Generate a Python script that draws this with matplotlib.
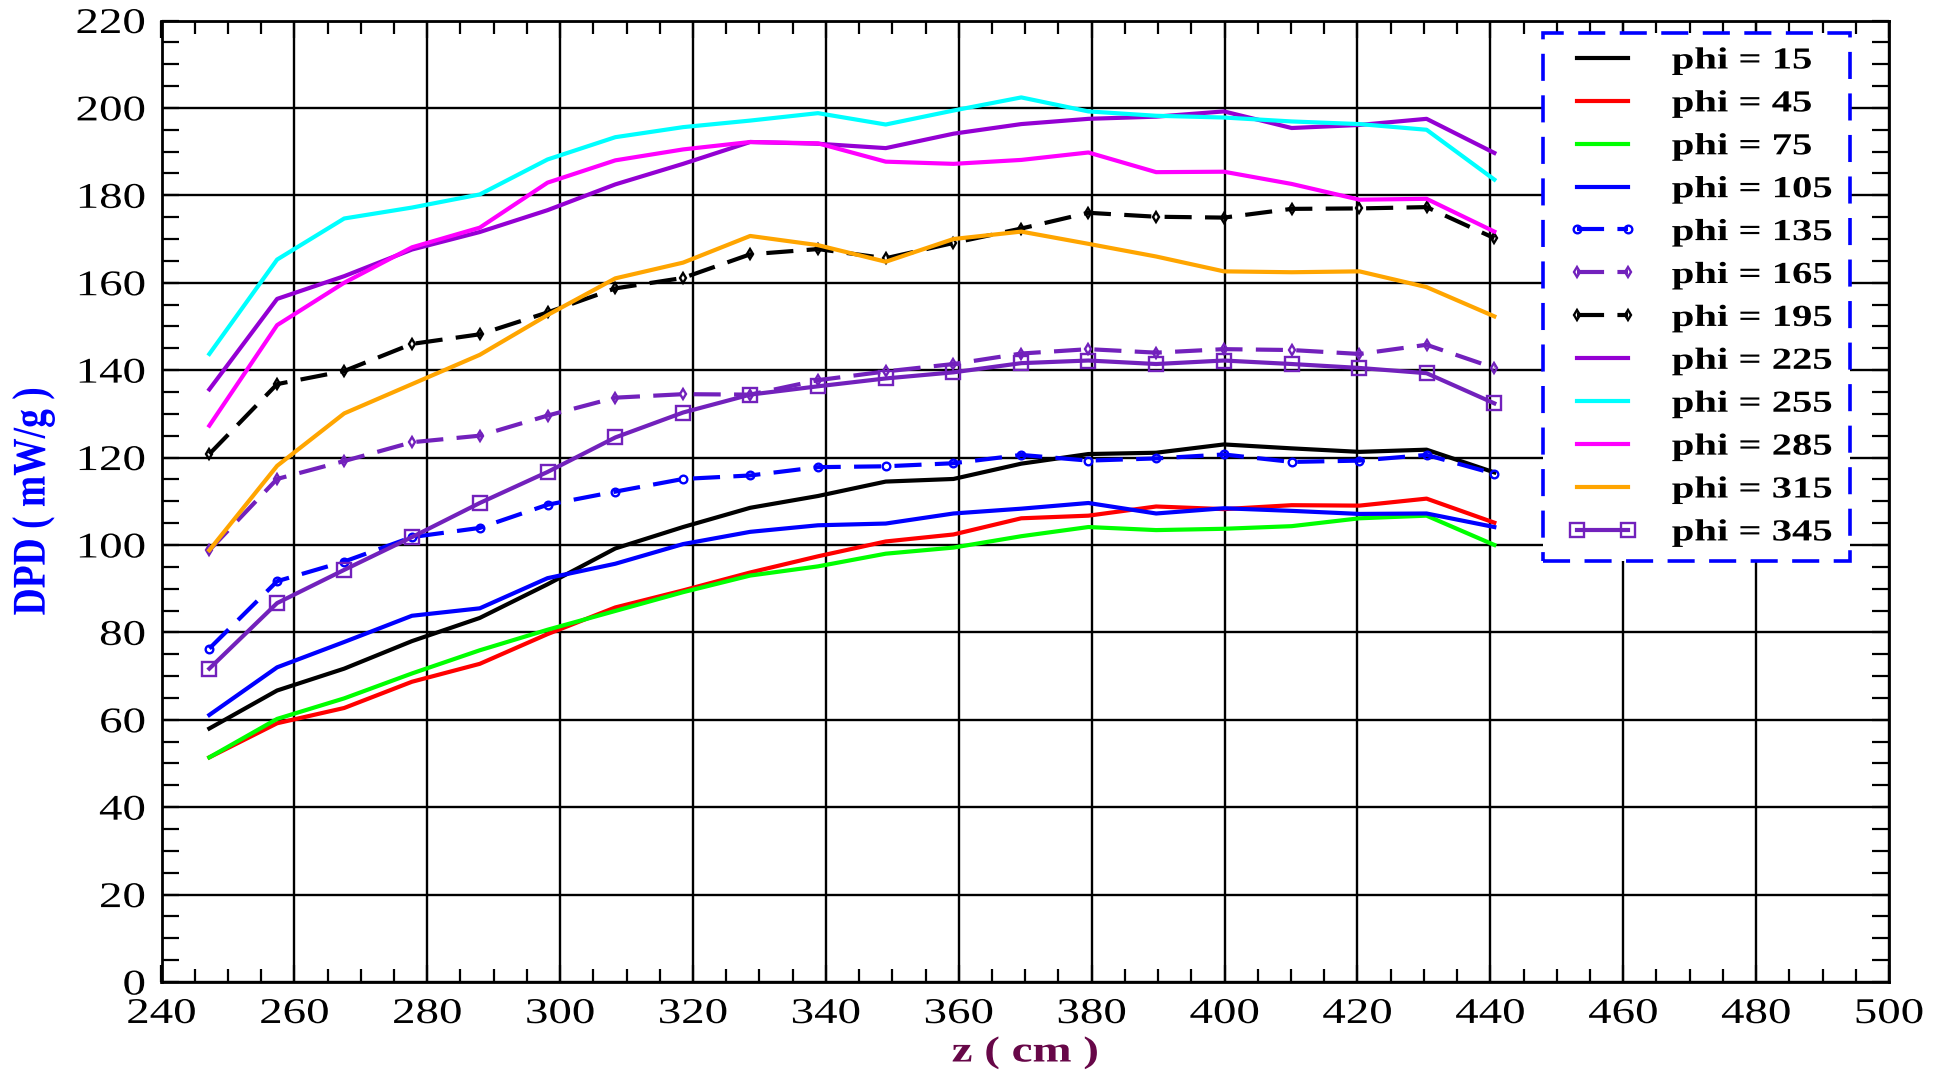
import matplotlib
matplotlib.use("Agg")
import matplotlib.pyplot as plt
from matplotlib.patheffects import AbstractPathEffect
from matplotlib.transforms import Affine2D
from matplotlib.patches import Rectangle
from matplotlib.ticker import MultipleLocator

# ---------------------------------------------------------------- data
z_cm = [247.2, 257.4, 267.5, 277.7, 287.9, 298.1, 308.3, 318.5, 328.6, 338.8,
        349.0, 359.2, 369.4, 379.5, 389.7, 399.9, 410.1, 420.3, 430.4, 440.6]

phi_15 = [58.0, 66.7, 71.7, 78.0, 83.3, 91.0, 99.2, 104.1, 108.5, 111.2,
          114.5, 115.1, 118.6, 120.8, 121.1, 123.0, 122.1, 121.3, 121.8, 116.6]
phi_45 = [51.4, 59.2, 62.7, 68.7, 72.8, 79.6, 85.7, 89.6, 93.7, 97.4,
          100.8, 102.4, 106.1, 106.7, 108.8, 108.2, 109.1, 109.0, 110.6, 105.1]
phi_75 = [51.4, 60.2, 64.9, 70.6, 75.9, 80.6, 84.9, 89.2, 93.0, 95.1,
          98.0, 99.4, 102.0, 104.1, 103.4, 103.7, 104.3, 106.1, 106.7, 100.0]
phi_105 = [61.1, 72.0, 77.8, 83.8, 85.5, 92.4, 95.7, 100.2, 103.0, 104.5,
           104.9, 107.2, 108.3, 109.6, 107.2, 108.4, 107.8, 107.1, 107.2, 104.1]
phi_135 = [76.3, 91.7, 96.2, 101.8, 103.9, 109.2, 112.2, 115.1, 115.9, 117.8,
           118.0, 118.7, 120.6, 119.3, 119.8, 120.7, 119.0, 119.3, 120.6, 116.3]
phi_165 = [98.8, 115.1, 119.2, 123.5, 125.0, 129.6, 133.7, 134.5, 134.4, 137.7,
           139.7, 141.4, 143.8, 144.8, 144.0, 144.8, 144.6, 143.7, 145.8, 140.5]
phi_195 = [120.8, 136.8, 139.8, 146.0, 148.2, 153.2, 158.7, 161.1, 166.5, 167.7,
           165.6, 169.1, 172.4, 176.0, 175.1, 174.9, 176.9, 177.0, 177.3, 170.2]
phi_225 = [135.6, 156.3, 161.5, 167.6, 171.6, 176.6, 182.5, 187.2, 192.2, 191.8,
           190.8, 194.1, 196.3, 197.5, 198.0, 199.2, 195.4, 196.1, 197.5, 189.7]
phi_255 = [143.7, 165.3, 174.7, 177.2, 180.2, 188.2, 193.3, 195.6, 197.1, 198.8,
           196.2, 199.4, 202.4, 199.2, 198.2, 197.8, 196.9, 196.3, 195.0, 183.6]
phi_285 = [127.3, 150.3, 160.0, 168.1, 172.6, 182.9, 188.0, 190.5, 192.2, 191.9,
           187.7, 187.2, 188.1, 189.8, 185.3, 185.4, 182.6, 179.0, 179.2, 171.7]
phi_315 = [98.8, 118.1, 130.1, 136.8, 143.5, 152.6, 161.0, 164.6, 170.7, 168.6,
           164.8, 170.0, 171.7, 168.9, 166.0, 162.6, 162.4, 162.6, 159.0, 152.3]
phi_345 = [71.7, 86.7, 94.3, 101.8, 109.6, 116.7, 124.6, 130.3, 134.4, 136.3,
           138.1, 139.5, 141.6, 142.2, 141.4, 142.2, 141.4, 140.5, 139.3, 132.4]

phi_angles = [15, 45, 75, 105, 135, 165, 195, 225, 255, 285, 315, 345]
series = [phi_15, phi_45, phi_75, phi_105, phi_135, phi_165,
          phi_195, phi_225, phi_255, phi_285, phi_315, phi_345]

x_ticks = [240, 260, 280, 300, 320, 340, 360, 380, 400, 420, 440, 460, 480, 500]
y_ticks = [0, 20, 40, 60, 80, 100, 120, 140, 160, 180, 200, 220]

# ---------------------------------------------------------------- styles
GREEN = "#00ff00"
INDIGO = "#7221bc"
VIOLET = "#9400d3"
MAROON = "#670748"
DASH = (0, (6.5, 3.2))
LW = 3.0

styles = [
    dict(color="black", ls="-"),
    dict(color="red", ls="-"),
    dict(color=GREEN, ls="-"),
    dict(color="blue", ls="-"),
    dict(color="blue", ls=DASH, marker="o", ms=5.5, mfc="none", mew=1.7),
    dict(color=INDIGO, ls=DASH, marker="d", ms=5.5, mfc="none", mew=1.7),
    dict(color="black", ls=DASH, marker="d", ms=5.5, mfc="none", mew=1.7),
    dict(color=VIOLET, ls="-"),
    dict(color="cyan", ls="-"),
    dict(color="magenta", ls="-"),
    dict(color="orange", ls="-"),
    dict(color=INDIGO, ls="-", marker="s", ms=9.5, mfc="none", mew=1.7),
]


class Stretch(AbstractPathEffect):
    """Draw text paths widened about an anchor in the glyph frame."""

    def __init__(self, sx=1.0, sy=1.0, anchor="center"):
        super().__init__()
        self.sx, self.sy, self.anchor = sx, sy, anchor

    def draw_path(self, renderer, gc, tpath, affine, rgbFace=None):
        ext = tpath.get_extents()
        if self.anchor == "left":
            cx = ext.x0
        elif self.anchor == "right":
            cx = ext.x1
        else:
            cx = 0.5 * (ext.x0 + ext.x1)
        cy = 0.5 * (ext.y0 + ext.y1)
        t = (Affine2D().translate(-cx, -cy)
             .scale(self.sx, self.sy).translate(cx, cy))
        renderer.draw_path(gc, tpath, t + affine, rgbFace)


plt.rcParams["font.family"] = ["Liberation Serif", "DejaVu Serif"]
plt.rcParams["font.size"] = 26

W, H = 1947, 1071
L, R, T, B = 161.5, 1889.0, 20.5, 982.0
fig = plt.figure(figsize=(W / 100, H / 100), dpi=100)
ax = fig.add_axes([L / W, 1 - B / H, (R - L) / W, (B - T) / H])


def ax_x(px):
    return (px - L) / (R - L)


def ax_y(py):
    return (B - py) / (B - T)


lines = []
for ang, vals, st in zip(phi_angles, series, styles):
    ln, = ax.plot(z_cm, vals, color=st["color"], linestyle=st["ls"], lw=LW,
                  marker=st.get("marker"), markersize=st.get("ms", 0),
                  markerfacecolor=st.get("mfc", "none"),
                  markeredgewidth=st.get("mew", 1.5),
                  label=f"phi = {ang}", zorder=2)
    lines.append(ln)

ax.set_xlim(240, 500)
ax.set_ylim(0, 220)
ax.set_xticks(x_ticks)
ax.set_yticks(y_ticks)
ax.xaxis.set_minor_locator(MultipleLocator(5))
ax.yaxis.set_minor_locator(MultipleLocator(5))
ax.grid(which="major", color="black", lw=1.7)
ax.set_axisbelow(True)

ax.tick_params(which="both", direction="in", top=True, right=True,
               width=1.6, labelsize=26, pad=11.5)
ax.tick_params(which="major", length=12)
ax.tick_params(axis="x", which="minor", length=9.5)
ax.tick_params(axis="y", which="minor", length=12.5)
for sp in ax.spines.values():
    sp.set_linewidth(2.0)

ax.set_xlabel("z ( cm )", fontsize=26, fontweight="bold", color=MAROON)
ax.xaxis.set_label_coords(0.5, ax_y(1053))
ax.xaxis.label.set_va("center")
ax.xaxis.label.set_path_effects([Stretch(1.3, 1.0, "center")])

ax.set_ylabel("DPD ( mW/g )", fontsize=27, fontweight="bold", color="blue")
ax.yaxis.set_label_coords(ax_x(33), 0.5)
ax.yaxis.label.set_va("center")
ax.yaxis.label.set_ha("center")
ax.yaxis.label.set_path_effects([Stretch(1.0, 1.25, "center")])

# dashed legend frame drawn as its own patch
frame = Rectangle((ax_x(1543), ax_y(561)), ax_x(1850) - ax_x(1543),
                  ax_y(33) - ax_y(561), transform=ax.transAxes,
                  facecolor="white", edgecolor="blue", lw=2.6,
                  linestyle=(0, (7.5, 4.0)), zorder=4, clip_on=False)
ax.add_patch(frame)

leg = ax.legend(handles=lines, loc="upper left",
                bbox_to_anchor=(ax_x(1568), ax_y(46.5)),
                frameon=False, borderpad=0, borderaxespad=0,
                numpoints=2, handlelength=2.25, handletextpad=1.15,
                labelspacing=0.455,
                prop=dict(family="Liberation Serif", weight="bold", size=22))
leg.set_zorder(5)
for txt in leg.get_texts():
    txt.set_path_effects([Stretch(1.33, 1.0, "left")])

fig.canvas.draw()
for tk in ax.xaxis.get_major_ticks():
    tk.label1.set_path_effects([Stretch(1.3, 1.0, "center")])
for tk in ax.yaxis.get_major_ticks():
    tk.label1.set_path_effects([Stretch(1.3, 1.0, "right")])

fig.savefig("out.png", dpi=100)
